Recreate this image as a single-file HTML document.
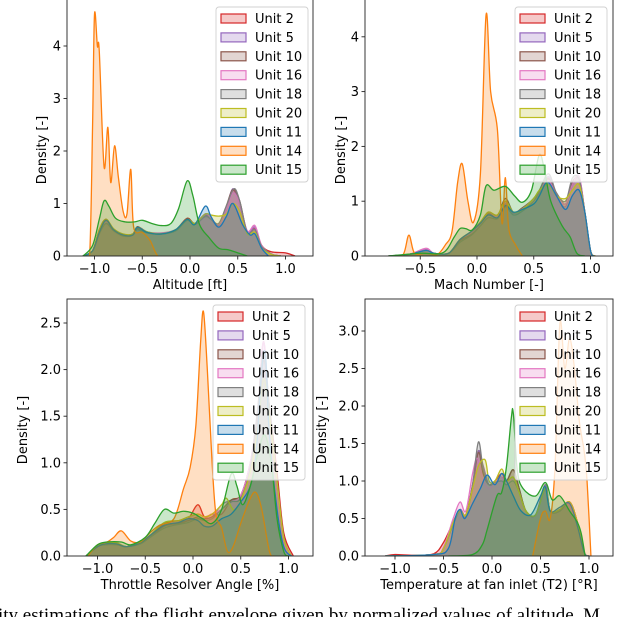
<!DOCTYPE html>
<html><head><meta charset="utf-8">
<style>
html,body{margin:0;padding:0;background:#fff;overflow:hidden}
svg{display:block}
text{font-family:"DejaVu Sans","Liberation Sans",sans-serif;fill:#000}
</style></head>
<body>
<svg id="fig" width="640" height="617" viewBox="0 0 640 617" xmlns="http://www.w3.org/2000/svg">
<text x="-2" y="621" style="font-family:'Liberation Serif',serif;font-size:19px">ity estimations of the flight envelope given by normalized values of altitude, M</text>
</svg>
<script>
// ---------- data ----------
const units = ["Unit 2","Unit 5","Unit 10","Unit 16","Unit 18","Unit 20","Unit 11","Unit 14","Unit 15"];
const colors = ["#d62728","#9467bd","#8c564b","#e377c2","#7f7f7f","#bcbd22","#1f77b4","#ff7f0e","#2ca02c"];

// Altitude
const alt_unit2 = [[-1.12,0],[-1.02,0.1],[-0.95,0.5],[-0.88,0.7],[-0.8,0.5],[-0.7,0.4],[-0.6,0.42],[-0.55,0.56],[-0.45,0.46],[-0.3,0.42],[-0.15,0.5],[-0.03,0.72],[0.05,0.62],[0.16,0.8],[0.22,0.72],[0.3,0.6],[0.38,0.9],[0.45,1.25],[0.52,1.0],[0.6,0.45],[0.68,0.52],[0.75,0.2],[0.85,0.08],[1.0,0.06],[1.1,0]];
const alt_unit5 = [[-1.12,0],[-1.02,0.1],[-0.95,0.45],[-0.88,0.66],[-0.8,0.5],[-0.7,0.4],[-0.6,0.4],[-0.55,0.54],[-0.45,0.45],[-0.3,0.42],[-0.15,0.48],[-0.03,0.7],[0.05,0.6],[0.16,0.78],[0.22,0.7],[0.3,0.58],[0.38,0.92],[0.45,1.28],[0.52,1.0],[0.6,0.45],[0.68,0.55],[0.75,0.2],[0.85,0.03],[0.95,0]];
const alt_unit10 = [[-1.12,0],[-1.02,0.1],[-0.95,0.45],[-0.88,0.68],[-0.8,0.5],[-0.7,0.38],[-0.6,0.4],[-0.55,0.52],[-0.45,0.44],[-0.3,0.42],[-0.15,0.5],[-0.03,0.68],[0.05,0.6],[0.16,0.76],[0.22,0.7],[0.3,0.6],[0.38,0.95],[0.45,1.27],[0.52,1.05],[0.6,0.45],[0.68,0.5],[0.75,0.2],[0.85,0.04],[0.95,0]];
const alt_unit16 = [[-1.12,0],[-1.02,0.1],[-0.95,0.45],[-0.88,0.65],[-0.8,0.5],[-0.7,0.4],[-0.6,0.42],[-0.55,0.55],[-0.45,0.46],[-0.3,0.44],[-0.15,0.5],[-0.03,0.7],[0.05,0.6],[0.16,0.8],[0.22,0.72],[0.3,0.6],[0.38,0.9],[0.45,1.2],[0.52,1.0],[0.6,0.48],[0.68,0.58],[0.75,0.2],[0.85,0.04],[0.95,0]];
const alt_unit18 = [[-1.12,0],[-1.02,0.1],[-0.95,0.42],[-0.88,0.62],[-0.8,0.48],[-0.7,0.38],[-0.6,0.4],[-0.55,0.5],[-0.45,0.44],[-0.3,0.42],[-0.15,0.48],[-0.03,0.68],[0.05,0.6],[0.16,0.75],[0.22,0.7],[0.3,0.62],[0.38,0.95],[0.46,1.28],[0.52,1.05],[0.6,0.45],[0.68,0.5],[0.75,0.18],[0.85,0.04],[0.95,0]];
const alt_unit20 = [[-1.12,0],[-1.02,0.1],[-0.95,0.5],[-0.88,0.7],[-0.8,0.52],[-0.7,0.42],[-0.6,0.42],[-0.55,0.55],[-0.45,0.46],[-0.3,0.42],[-0.15,0.5],[-0.03,0.7],[0.05,0.62],[0.16,0.8],[0.22,0.78],[0.3,0.76],[0.38,0.8],[0.45,1.0],[0.52,0.85],[0.6,0.42],[0.68,0.45],[0.75,0.15],[0.85,0.03],[0.95,0]];
const alt_unit11 = [[-1.12,0],[-1.02,0.1],[-0.95,0.45],[-0.88,0.68],[-0.8,0.5],[-0.7,0.4],[-0.6,0.4],[-0.55,0.55],[-0.45,0.45],[-0.3,0.42],[-0.15,0.5],[-0.03,0.7],[0.05,0.6],[0.16,0.95],[0.22,0.75],[0.3,0.55],[0.38,0.75],[0.45,1.0],[0.55,0.6],[0.63,0.4],[0.68,0.42],[0.75,0.15],[0.82,0]];
const alt_unit14 = [[-1.1,0],[-1.05,0.05],[-1.02,2.5],[-1.0,4.6],[-0.97,4.0],[-0.95,3.9],[-0.9,1.7],[-0.86,2.45],[-0.83,1.4],[-0.79,2.1],[-0.75,1.5],[-0.7,0.85],[-0.66,0.8],[-0.62,1.65],[-0.59,0.55],[-0.5,0.45],[-0.42,0.3],[-0.37,0.1],[-0.34,0]];
const alt_unit15 = [[-1.12,0],[-1.02,0.2],[-0.95,0.7],[-0.9,1.05],[-0.85,0.95],[-0.78,0.72],[-0.68,0.65],[-0.58,0.65],[-0.5,0.68],[-0.4,0.62],[-0.3,0.58],[-0.2,0.62],[-0.12,0.9],[-0.03,1.43],[0.03,1.15],[0.1,0.6],[0.2,0.35],[0.3,0.15],[0.4,0.12],[0.5,0.06],[0.6,0]];

// Mach
const mach_unit2 = [[-0.78,0],[-0.6,0.03],[-0.45,0.12],[-0.38,0.05],[-0.25,0.05],[-0.15,0.3],[-0.05,0.42],[0.03,0.6],[0.1,0.8],[0.18,0.72],[0.25,1.0],[0.32,0.8],[0.4,0.85],[0.5,1.05],[0.55,1.2],[0.63,1.42],[0.7,1.1],[0.78,0.95],[0.84,1.3],[0.9,1.42],[0.95,0.8],[1.0,0.1],[1.04,0]];
const mach_unit5 = [[-0.78,0],[-0.6,0.03],[-0.45,0.12],[-0.38,0.05],[-0.25,0.05],[-0.15,0.3],[-0.05,0.42],[0.03,0.6],[0.1,0.75],[0.18,0.7],[0.25,0.95],[0.32,0.78],[0.4,0.85],[0.5,1.0],[0.55,1.15],[0.63,1.45],[0.7,1.1],[0.78,0.9],[0.84,1.3],[0.9,1.45],[0.95,0.8],[1.0,0.1],[1.04,0]];
const mach_unit10 = [[-0.78,0],[-0.6,0.03],[-0.45,0.1],[-0.38,0.05],[-0.25,0.05],[-0.15,0.28],[-0.05,0.4],[0.03,0.6],[0.1,0.78],[0.18,0.72],[0.25,1.05],[0.32,0.8],[0.4,0.88],[0.5,1.05],[0.55,1.2],[0.63,1.4],[0.7,1.15],[0.78,0.95],[0.84,1.35],[0.9,1.4],[0.95,0.8],[1.0,0.1],[1.04,0]];
const mach_unit16 = [[-0.78,0],[-0.6,0.03],[-0.45,0.14],[-0.38,0.05],[-0.25,0.05],[-0.15,0.3],[-0.05,0.42],[0.03,0.6],[0.1,0.8],[0.18,0.72],[0.25,0.98],[0.32,0.8],[0.4,0.86],[0.5,1.05],[0.55,1.2],[0.63,1.38],[0.7,1.1],[0.78,0.95],[0.84,1.3],[0.9,1.45],[0.95,0.8],[1.0,0.1],[1.04,0]];
const mach_unit18 = [[-0.78,0],[-0.6,0.03],[-0.45,0.1],[-0.38,0.05],[-0.25,0.05],[-0.15,0.25],[-0.05,0.38],[0.03,0.55],[0.1,0.7],[0.18,0.68],[0.25,0.9],[0.32,0.75],[0.4,0.82],[0.5,1.0],[0.55,1.2],[0.63,1.5],[0.7,1.15],[0.78,1.0],[0.84,1.42],[0.9,1.4],[0.95,0.8],[1.0,0.1],[1.04,0]];
const mach_unit20 = [[-0.78,0],[-0.6,0.03],[-0.45,0.1],[-0.38,0.05],[-0.25,0.05],[-0.15,0.3],[-0.05,0.45],[0.03,0.62],[0.1,0.8],[0.18,0.75],[0.25,1.0],[0.32,0.8],[0.4,0.85],[0.5,1.05],[0.55,1.2],[0.63,1.3],[0.7,1.1],[0.78,1.05],[0.84,1.2],[0.9,1.3],[0.95,0.8],[1.0,0.1],[1.04,0]];
const mach_unit11 = [[-0.78,0],[-0.6,0.03],[-0.45,0.1],[-0.38,0.05],[-0.25,0.05],[-0.15,0.3],[-0.05,0.45],[0.03,0.6],[0.1,0.75],[0.18,0.7],[0.25,0.92],[0.32,0.8],[0.4,0.85],[0.5,0.95],[0.55,1.1],[0.62,1.35],[0.7,1.1],[0.78,0.85],[0.84,1.1],[0.9,1.2],[0.95,0.8],[1.0,0.1],[1.03,0]];
const mach_unit14 = [[-0.75,0],[-0.65,0.03],[-0.6,0.38],[-0.55,0.05],[-0.45,0.05],[-0.35,0.03],[-0.28,0.2],[-0.22,0.45],[-0.17,1.35],[-0.13,1.68],[-0.08,1.0],[-0.03,0.62],[0.03,1.5],[0.08,4.4],[0.12,3.0],[0.18,2.3],[0.22,0.6],[0.25,1.43],[0.28,0.5],[0.34,0.2],[0.4,0]];
const mach_unit15 = [[-0.78,0],[-0.5,0.05],[-0.3,0.06],[-0.2,0.35],[-0.15,0.5],[-0.1,0.5],[-0.04,0.48],[0.03,0.75],[0.08,1.28],[0.15,1.2],[0.25,1.27],[0.33,1.1],[0.4,0.98],[0.48,1.2],[0.55,1.85],[0.6,1.5],[0.65,1.0],[0.75,0.55],[0.82,0.35],[0.88,0.05],[0.95,0]];

// Throttle
const tra_unit2 = [[-1.12,0],[-1.0,0.1],[-0.92,0.14],[-0.8,0.14],[-0.7,0.1],[-0.55,0.14],[-0.45,0.22],[-0.3,0.35],[-0.15,0.38],[-0.05,0.4],[0.05,0.55],[0.12,0.42],[0.2,0.45],[0.3,0.45],[0.4,0.6],[0.5,0.65],[0.6,0.95],[0.68,1.5],[0.74,2.0],[0.8,1.6],[0.88,0.9],[0.95,0.25],[1.05,0]];
const tra_unit5 = [[-1.12,0],[-1.0,0.1],[-0.92,0.13],[-0.8,0.13],[-0.7,0.1],[-0.55,0.14],[-0.45,0.22],[-0.3,0.33],[-0.15,0.36],[-0.05,0.38],[0.05,0.4],[0.12,0.4],[0.2,0.42],[0.3,0.55],[0.4,0.6],[0.5,0.65],[0.6,1.0],[0.68,1.6],[0.74,2.3],[0.8,1.5],[0.88,0.7],[0.95,0.15],[1.03,0]];
const tra_unit10 = [[-1.12,0],[-1.0,0.1],[-0.92,0.13],[-0.8,0.13],[-0.7,0.1],[-0.55,0.14],[-0.45,0.2],[-0.3,0.32],[-0.15,0.35],[-0.05,0.38],[0.05,0.42],[0.12,0.4],[0.2,0.42],[0.3,0.5],[0.4,0.6],[0.5,0.65],[0.6,1.0],[0.68,1.5],[0.74,2.1],[0.8,1.6],[0.88,0.8],[0.95,0.2],[1.03,0]];
const tra_unit16 = [[-1.12,0],[-1.0,0.1],[-0.92,0.14],[-0.8,0.14],[-0.7,0.1],[-0.55,0.14],[-0.45,0.22],[-0.3,0.33],[-0.15,0.37],[-0.05,0.4],[0.05,0.45],[0.12,0.42],[0.2,0.45],[0.3,0.5],[0.4,0.58],[0.5,0.65],[0.6,1.0],[0.68,1.6],[0.74,2.3],[0.8,1.5],[0.88,0.7],[0.95,0.15],[1.03,0]];
const tra_unit18 = [[-1.12,0],[-1.0,0.1],[-0.92,0.12],[-0.8,0.12],[-0.7,0.1],[-0.55,0.13],[-0.45,0.2],[-0.3,0.3],[-0.15,0.34],[-0.05,0.36],[0.05,0.4],[0.12,0.38],[0.2,0.4],[0.3,0.5],[0.4,0.58],[0.5,0.62],[0.6,0.95],[0.68,1.6],[0.74,2.2],[0.8,1.6],[0.88,0.8],[0.95,0.2],[1.03,0]];
const tra_unit20 = [[-1.12,0],[-1.0,0.1],[-0.92,0.14],[-0.8,0.14],[-0.7,0.1],[-0.55,0.14],[-0.45,0.22],[-0.3,0.36],[-0.15,0.38],[-0.05,0.42],[0.05,0.45],[0.12,0.42],[0.2,0.45],[0.3,0.55],[0.35,0.62],[0.45,0.5],[0.6,0.9],[0.68,1.4],[0.74,1.9],[0.8,1.5],[0.88,0.8],[0.95,0.2],[1.03,0]];
const tra_unit11 = [[-1.12,0],[-1.0,0.1],[-0.92,0.13],[-0.8,0.13],[-0.7,0.1],[-0.55,0.14],[-0.45,0.22],[-0.3,0.33],[-0.15,0.36],[-0.05,0.4],[0.05,0.38],[0.12,0.32],[0.2,0.32],[0.3,0.4],[0.4,0.45],[0.5,0.58],[0.6,0.75],[0.66,1.1],[0.72,2.0],[0.76,2.15],[0.8,1.3],[0.88,0.5],[0.95,0.1],[1.03,0]];
const tra_unit14 = [[-1.1,0],[-1.0,0.12],[-0.9,0.15],[-0.83,0.2],[-0.75,0.27],[-0.65,0.16],[-0.55,0.15],[-0.45,0.25],[-0.35,0.33],[-0.2,0.4],[-0.1,0.72],[-0.03,0.95],[0.03,1.4],[0.08,2.3],[0.11,2.62],[0.15,2.0],[0.2,1.0],[0.24,0.45],[0.3,0.3],[0.36,0.05],[0.42,0.1],[0.5,0.35],[0.6,0.62],[0.66,0.68],[0.72,0.5],[0.8,0.05],[0.85,0]];
const tra_unit15 = [[-1.12,0],[-1.0,0.12],[-0.9,0.15],[-0.75,0.15],[-0.65,0.12],[-0.5,0.2],[-0.4,0.35],[-0.3,0.5],[-0.2,0.46],[-0.1,0.48],[0.0,0.46],[0.1,0.4],[0.2,0.35],[0.3,0.5],[0.4,0.88],[0.46,0.75],[0.52,0.55],[0.6,0.75],[0.68,1.1],[0.75,1.3],[0.82,1.0],[0.88,0.4],[0.95,0.05],[1.0,0]];

// Temperature
const t2_unit2 = [[-1.1,0],[-1.0,0.02],[-0.8,0.01],[-0.6,0.03],[-0.5,0.18],[-0.4,0.45],[-0.33,0.62],[-0.27,0.55],[-0.2,0.9],[-0.14,1.4],[-0.09,1.1],[-0.03,0.95],[0.03,1.0],[0.1,1.1],[0.15,1.0],[0.22,1.15],[0.28,0.9],[0.35,0.6],[0.45,0.55],[0.55,0.95],[0.6,0.6],[0.7,0.62],[0.8,0.72],[0.88,0.45],[0.95,0.05],[1.0,0]];
const t2_unit5 = [[-1.1,0],[-0.6,0.02],[-0.5,0.1],[-0.4,0.45],[-0.33,0.62],[-0.27,0.55],[-0.2,0.95],[-0.14,1.4],[-0.09,1.2],[-0.03,0.95],[0.03,1.0],[0.1,1.05],[0.15,0.95],[0.22,1.05],[0.28,0.85],[0.35,0.6],[0.45,0.55],[0.55,0.95],[0.6,0.6],[0.7,0.6],[0.8,0.72],[0.88,0.45],[0.95,0.05],[1.0,0]];
const t2_unit10 = [[-1.1,0],[-0.6,0.02],[-0.5,0.1],[-0.4,0.45],[-0.33,0.6],[-0.27,0.55],[-0.2,0.95],[-0.14,1.38],[-0.09,1.1],[-0.03,0.95],[0.03,1.0],[0.1,1.05],[0.15,1.0],[0.22,1.15],[0.28,0.9],[0.35,0.6],[0.45,0.55],[0.55,0.9],[0.6,0.6],[0.7,0.6],[0.8,0.72],[0.88,0.45],[0.95,0.05],[1.0,0]];
const t2_unit16 = [[-1.1,0],[-0.6,0.02],[-0.5,0.12],[-0.4,0.5],[-0.33,0.72],[-0.27,0.6],[-0.2,1.1],[-0.15,1.3],[-0.09,1.0],[-0.03,0.9],[0.03,0.98],[0.1,1.05],[0.15,0.95],[0.22,1.05],[0.28,0.85],[0.35,0.6],[0.45,0.55],[0.55,0.9],[0.6,0.6],[0.7,0.6],[0.8,0.7],[0.88,0.45],[0.95,0.05],[1.0,0]];
const t2_unit18 = [[-1.1,0],[-0.6,0.02],[-0.5,0.1],[-0.4,0.42],[-0.33,0.6],[-0.27,0.52],[-0.2,0.95],[-0.14,1.52],[-0.09,1.15],[-0.03,0.95],[0.03,0.98],[0.1,1.0],[0.15,0.95],[0.22,1.0],[0.28,0.85],[0.35,0.6],[0.45,0.55],[0.55,0.9],[0.6,0.6],[0.7,0.6],[0.8,0.72],[0.88,0.45],[0.95,0.05],[1.0,0]];
const t2_unit20 = [[-1.1,0],[-0.6,0.02],[-0.5,0.1],[-0.4,0.45],[-0.33,0.6],[-0.27,0.55],[-0.2,0.9],[-0.14,1.2],[-0.07,1.28],[-0.03,1.0],[0.03,1.0],[0.1,1.16],[0.15,1.0],[0.22,1.05],[0.28,0.85],[0.35,0.6],[0.45,0.55],[0.55,0.9],[0.6,0.6],[0.7,0.62],[0.8,0.72],[0.88,0.45],[0.95,0.05],[1.0,0]];
const t2_unit11 = [[-1.1,0],[-0.6,0.02],[-0.45,0.1],[-0.38,0.5],[-0.33,0.62],[-0.28,0.5],[-0.2,0.7],[-0.12,0.9],[-0.05,1.08],[0.03,0.95],[0.1,1.1],[0.15,1.0],[0.22,0.8],[0.3,0.6],[0.4,0.55],[0.5,0.8],[0.55,0.92],[0.6,0.6],[0.7,0.65],[0.8,0.7],[0.88,0.4],[0.95,0.05],[1.0,0]];
const t2_unit14 = [[0.42,0],[0.5,0.5],[0.55,0.6],[0.6,0.5],[0.65,1.2],[0.7,3.1],[0.75,2.5],[0.8,2.9],[0.85,2.5],[0.9,1.8],[0.95,1.4],[0.98,1.0],[1.02,0]];
const t2_unit15 = [[-0.45,0],[-0.2,0.02],[-0.1,0.15],[-0.05,0.35],[0.05,0.8],[0.1,0.85],[0.15,1.2],[0.2,1.85],[0.22,1.9],[0.26,1.15],[0.32,0.9],[0.45,0.8],[0.55,0.98],[0.62,0.75],[0.7,0.8],[0.8,0.6],[0.88,0.45],[0.92,0.3],[0.96,0]];

const altSeries = [alt_unit2,alt_unit5,alt_unit10,alt_unit16,alt_unit18,alt_unit20,alt_unit11,alt_unit14,alt_unit15];
const machSeries = [mach_unit2,mach_unit5,mach_unit10,mach_unit16,mach_unit18,mach_unit20,mach_unit11,mach_unit14,mach_unit15];
const traSeries = [tra_unit2,tra_unit5,tra_unit10,tra_unit16,tra_unit18,tra_unit20,tra_unit11,tra_unit14,tra_unit15];
const t2Series = [t2_unit2,t2_unit5,t2_unit10,t2_unit16,t2_unit18,t2_unit20,t2_unit11,t2_unit14,t2_unit15];

const xTicksTop1 = [-1.0,-0.5,0.0,0.5,1.0];
const xTicksMach = [-0.5,0.0,0.5,1.0];
const yTicksAlt = [0,1,2,3,4];
const yTicksMach = [0,1,2,3,4];
const yTicksTra = [0.0,0.5,1.0,1.5,2.0,2.5];
const yTicksT2 = [0.0,0.5,1.0,1.5,2.0,2.5,3.0];

// ---------- drawing ----------
const NS="http://www.w3.org/2000/svg";
const svg=document.getElementById('fig');
function mk(tag,attrs,parent){const e=document.createElementNS(NS,tag);for(const k in attrs)e.setAttribute(k,attrs[k]);(parent||svg).appendChild(e);return e;}

function smoothPath(pts){
  let d="M"+pts[0][0].toFixed(2)+","+pts[0][1].toFixed(2);
  for(let i=0;i<pts.length-1;i++){
    const p0=pts[Math.max(0,i-1)],p1=pts[i],p2=pts[i+1],p3=pts[Math.min(pts.length-1,i+2)];
    const c1x=p1[0]+(p2[0]-p0[0])/6,c1y=p1[1]+(p2[1]-p0[1])/6;
    const c2x=p2[0]-(p3[0]-p1[0])/6,c2y=p2[1]-(p3[1]-p1[1])/6;
    d+=" C"+c1x.toFixed(2)+","+Math.min(c1y,p1[1]>p2[1]?9999:9999).toFixed(2)+" "+c2x.toFixed(2)+","+c2y.toFixed(2)+" "+p2[0].toFixed(2)+","+p2[1].toFixed(2);
  }
  return d;
}

function panel(cfg){
  const g=mk('g',{});
  
  
  const X=v=>cfg.x0+v*cfg.kx, Y=v=>cfg.y0-v*cfg.ky;
  const clipId='clip-'+cfg.name;
  const cp=mk('clipPath',{id:clipId},g);
  mk('rect',{x:cfg.L,y:cfg.T,width:cfg.R-cfg.L,height:cfg.y0-cfg.T},cp);
  const plot=mk('g',{'clip-path':'url(#'+clipId+')'},g);
  cfg.series.forEach((s,i)=>{
    const pts=s.map(p=>[X(p[0]),Y(p[1])]);
    const d=smoothPath(pts);
    const area=mk('path',{d:d+" L"+pts[pts.length-1][0].toFixed(2)+","+cfg.y0+" L"+pts[0][0].toFixed(2)+","+cfg.y0+" Z",fill:colors[i],'fill-opacity':0.25,stroke:'none'},plot);
    
    
    const line=mk('path',{d:d,fill:'none',stroke:colors[i],'stroke-width':1.3},plot);
    
    
  });
  // frame
  const fr=mk('rect',{x:cfg.L,y:cfg.T,width:cfg.R-cfg.L,height:cfg.y0-cfg.T,fill:'none',stroke:'#222','stroke-width':0.9},g);
  
  
  cfg.xt.forEach(v=>{
    mk('line',{x1:X(v),x2:X(v),y1:cfg.y0,y2:cfg.y0+3.5,stroke:'#222','stroke-width':0.9},g);
    const t=mk('text',{x:X(v),y:cfg.y0+17,'text-anchor':'middle','font-size':13},g);
    t.textContent=(v<0?'\u2212':'')+Math.abs(v).toFixed(1);
    
    
  });
  cfg.yt.forEach(v=>{
    mk('line',{x1:cfg.L-3.5,x2:cfg.L,y1:Y(v),y2:Y(v),stroke:'#222','stroke-width':0.9},g);
    const t=mk('text',{x:cfg.L-6,y:Y(v)+4.5,'text-anchor':'end','font-size':13},g);
    t.textContent=cfg.yfmt(v);
    
    
  });
  const xl=mk('text',{x:(cfg.L+cfg.R)/2,y:cfg.y0+33,'text-anchor':'middle','font-size':13},g);
  xl.textContent=cfg.xlabel;
  
  
  const yl=mk('text',{x:0,y:0,'text-anchor':'middle','font-size':13,transform:'translate('+cfg.ylx+','+cfg.yly+') rotate(-90)'},g);
  yl.textContent='Density [-]';
  
  
  // legend
  const lg=mk('g',{},g);
  
  
  mk('rect',{x:cfg.lx,y:cfg.ly,width:92,height:175,rx:3,fill:'#fff','fill-opacity':0.8,stroke:'#d0d0d0','stroke-width':0.9},lg);
  units.forEach((u,i)=>{
    const yy=cfg.ly+11+i*18.9;
    const e=mk('g',{},lg);
    
    
    mk('rect',{x:cfg.lx+5,y:yy-4,width:25,height:9,fill:colors[i],'fill-opacity':0.25,stroke:colors[i],'stroke-width':1.2},e);
    const t=mk('text',{x:cfg.lx+39,y:yy+5,'font-size':13},e);
    t.textContent=u;
  });
}

panel({name:'altitude-panel',series:altSeries,L:67,R:313,T:-2,y0:256,x0:190,kx:95.5,ky:52.5,xt:xTicksTop1,yt:yTicksAlt,yfmt:v=>String(v),xlabel:'Altitude [ft]',ylx:46,yly:150,lx:216,ly:7});
panel({name:'mach-panel',series:machSeries,L:365,R:613,T:-2,y0:256,x0:477,kx:113.5,ky:54.8,xt:xTicksMach,yt:yTicksMach,yfmt:v=>String(v),xlabel:'Mach Number [-]',ylx:345,yly:150,lx:515,ly:7});
panel({name:'throttle-panel',series:traSeries,L:67,R:313,T:299,y0:556,x0:193,kx:95.5,ky:93.2,xt:xTicksTop1,yt:yTicksTra,yfmt:v=>v.toFixed(1),xlabel:'Throttle Resolver Angle [%]',ylx:27,yly:430,lx:213,ly:305});
panel({name:'temperature-panel',series:t2Series,L:365,R:613,T:299,y0:556,x0:492,kx:97,ky:75,xt:xTicksTop1,yt:yTicksT2,yfmt:v=>v.toFixed(1),xlabel:'Temperature at fan inlet (T2) [\u00b0R]',ylx:326,yly:430,lx:515,ly:305});
</script>
</body></html>
